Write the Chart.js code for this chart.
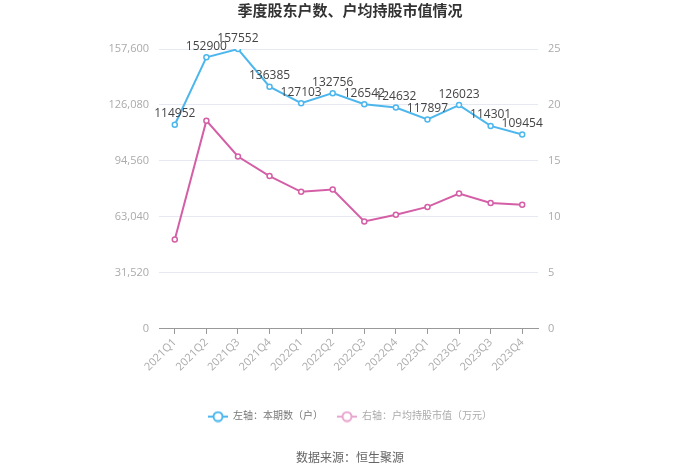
<!DOCTYPE html>
<html>
<head>
<meta charset="utf-8">
<script src="https://cdn.jsdelivr.net/npm/chart.js@4"></script>
<style>
  html, body { margin: 0; padding: 0; background: #fff; }
  #wrap { width: 700px; height: 474px; position: relative; }
</style>
</head>
<body>
<div id="wrap"><canvas id="chart"></canvas></div>
<script>
const quarters = ['2021Q1', '2021Q2', '2021Q3', '2021Q4', '2022Q1', '2022Q2', '2022Q3', '2022Q4', '2023Q1', '2023Q2', '2023Q3', '2023Q4'];
const holders = [114952, 152900, 157552, 136385, 127103, 132756, 126542, 124632, 117897, 126023, 114301, 109454];
const avgValue = [8.0, 18.6, 15.4, 13.65, 12.25, 12.45, 9.6, 10.2, 10.9, 12.1, 11.25, 11.1];
const leftTicks = [0, 31520, 63040, 94560, 126080, 157600];
const rightTicks = [0, 5, 10, 15, 20, 25];

const BLUE = '#4db7ed';
const PINK = '#d45fa6';
const FONT = "'Open Sans', 'Noto Sans CJK SC', sans-serif";

function legendIcon(color) {
  const c = document.createElement('canvas');
  c.width = 20; c.height = 12;
  const g = c.getContext('2d');
  g.strokeStyle = color;
  g.lineWidth = 2;
  g.beginPath(); g.moveTo(0, 6); g.lineTo(20, 6); g.stroke();
  g.fillStyle = '#fff';
  g.beginPath(); g.arc(10, 6, 4.5, 0, Math.PI * 2); g.fill(); g.stroke();
  return c;
}

// value labels above the blue line
const pointLabels = {
  id: 'pointLabels',
  afterDatasetsDraw(chart) {
    const ctx = chart.ctx;
    const meta = chart.getDatasetMeta(0);
    ctx.save();
    ctx.font = `12px ${FONT}`;
    ctx.fillStyle = '#444';
    ctx.textAlign = 'center';
    ctx.textBaseline = 'bottom';
    meta.data.forEach((pt, i) => {
      ctx.fillText(String(holders[i]), pt.x, pt.y - 5);
    });
    ctx.restore();
  }
};

new Chart(document.getElementById('chart'), {
  type: 'line',
  data: {
    labels: quarters,
    datasets: [
      {
        label: '左轴：本期数（户）',
        data: holders,
        yAxisID: 'y',
        borderColor: BLUE,
        backgroundColor: '#fff',
        borderWidth: 2,
        pointRadius: 2.5,
        pointBorderWidth: 1.5,
        pointBorderColor: BLUE,
        pointBackgroundColor: '#fff',
        tension: 0,
      },
      {
        label: '右轴：户均持股市值（万元）',
        data: avgValue,
        yAxisID: 'y1',
        borderColor: PINK,
        backgroundColor: '#fff',
        borderWidth: 2,
        pointRadius: 2.5,
        pointBorderWidth: 1.5,
        pointBorderColor: PINK,
        pointBackgroundColor: '#fff',
        tension: 0,
      },
    ],
  },
  options: {
    responsive: true,
    maintainAspectRatio: false,
    animation: false,
    layout: { padding: { left: 0, right: 0, top: 0, bottom: 0 } },
    scales: {
      x: {
        offset: true,
        grid: { drawOnChartArea: false, drawTicks: true, tickLength: 5, color: '#999' },
        border: { color: '#999' },
        ticks: { color: '#aaa', font: { family: FONT, size: 11 }, maxRotation: 45, minRotation: 45, padding: 2 },
        afterFit: axis => { axis.height += 22; },
      },
      y: {
        position: 'left',
        min: 0,
        max: 157600,
        afterBuildTicks: axis => { axis.ticks = leftTicks.map(v => ({ value: v })); },
        afterFit: axis => { axis.width = 159; },
        grid: { color: '#e6e9f1', drawTicks: false },
        border: { display: false },
        ticks: { color: '#aaa', font: { family: FONT, size: 11 }, padding: 10, callback: v => v.toLocaleString('en-US') },
      },
      y1: {
        position: 'right',
        min: 0,
        max: 25,
        afterBuildTicks: axis => { axis.ticks = rightTicks.map(v => ({ value: v })); },
        afterFit: axis => { axis.width = 162; },
        grid: { drawOnChartArea: false, drawTicks: false },
        border: { display: false },
        ticks: { color: '#aaa', font: { family: FONT, size: 11 }, padding: 10 },
      },
    },
    plugins: {
      title: {
        display: true,
        text: '季度股东户数、户均持股市值情况',
        color: '#333',
        font: { family: FONT, size: 15, weight: 'bold' },
        padding: { top: 3, bottom: 28 },
      },
      legend: {
        position: 'bottom',
        labels: {
          color: '#888',
          font: { family: FONT, size: 10 },
          usePointStyle: true,
          pointStyleWidth: 20,
          boxHeight: 12,
          padding: 14,
          generateLabels: chart => chart.data.datasets.map((ds, i) => ({
            text: ds.label,
            pointStyle: legendIcon(i === 0 ? BLUE : '#e8a6cf'),
            fontColor: i === 0 ? '#777' : '#aaa',
            datasetIndex: i,
            hidden: false,
            lineWidth: 0,
          })),
        },
      },
      subtitle: {
        display: true,
        position: 'bottom',
        text: '数据来源：恒生聚源',
        color: '#666',
        font: { family: FONT, size: 12 },
        padding: { top: 20, bottom: 8 },
      },
      tooltip: { enabled: false },
    },
  },
  plugins: [pointLabels],
});
</script>
</body>
</html>
